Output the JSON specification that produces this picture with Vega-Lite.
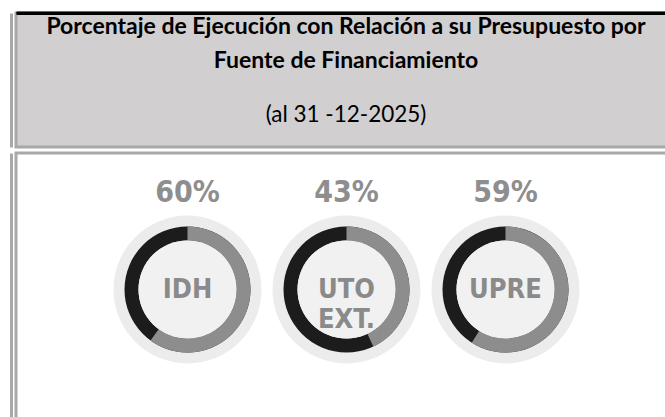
{
  "$schema": "https://vega.github.io/schema/vega-lite/v6.json",
  "background": "white",
  "padding": {"left": 9, "top": 10, "right": -12, "bottom": -11},
  "spacing": 2,
  "vconcat": [
    {
      "width": 660,
      "height": 134,
      "view": {"fill": "#d1cfd0", "stroke": "#a8a8a8", "strokeWidth": 3},
      "data": {"values": [{"titulo": "Porcentaje de Ejecución con Relación a su Presupuesto por\nFuente de Financiamiento", "fecha": "(al 31 -12-2025)"}]},
      "layer": [
        {
          "mark": {"type": "text", "font": "Lato", "fontWeight": "bold", "fontSize": 23, "lineBreak": "\n", "lineHeight": 34, "baseline": "alphabetic", "align": "center", "dy": -46.5, "color": "#000000"},
          "encoding": {
            "text": {"field": "titulo"},
            "x": {"datum": 0, "type": "quantitative", "scale": {"domain": [-1, 1]}, "axis": {"orient": "top", "domainColor": "#000000", "domainWidth": 3, "labels": false, "ticks": false, "grid": false, "title": null}},
            "y": {"datum": 0, "type": "quantitative", "scale": {"domain": [-1, 1]}, "axis": {"orient": "left", "offset": 5, "domainColor": "#a8a8a8", "domainWidth": 3, "labels": false, "ticks": false, "grid": false, "title": null}}
          }
        },
        {
          "mark": {"type": "text", "font": "Lato", "fontSize": 22.5, "baseline": "alphabetic", "align": "center", "dy": 42, "color": "#000000"},
          "encoding": {
            "text": {"field": "fecha"},
            "x": {"datum": 0, "type": "quantitative", "scale": {"domain": [-1, 1]}, "axis": {"orient": "top", "offset": 1, "domainColor": "#000000", "domainWidth": 2, "labels": false, "ticks": false, "grid": false, "title": null}}
          }
        }
      ],
      "resolve": {"scale": {"x": "independent"}, "axis": {"x": "independent"}}
    },
    {
      "width": 660,
      "height": 273,
      "view": {"fill": "white", "stroke": "#a8a8a8", "strokeWidth": 3},
      "data": {"values": [
        {"fuente": "IDH", "etiqueta": "IDH", "ejecucion": 0.60},
        {"fuente": "UTO EXT.", "etiqueta": "UTO\nEXT.", "ejecucion": 0.43},
        {"fuente": "UPRE", "etiqueta": "UPRE", "ejecucion": 0.59}
      ]},
      "encoding": {
        "x": {"field": "fuente", "type": "nominal", "sort": null, "scale": {"type": "point", "padding": 0, "range": [171.5, 489.5]}, "axis": null}
      },
      "layer": [
        {
          "mark": {"type": "arc", "radius": 74, "fill": "#ececec"},
          "encoding": {
            "y": {"datum": 0, "type": "quantitative", "scale": {"domain": [-1, 1]}, "axis": {"orient": "left", "offset": 5, "domainColor": "#a8a8a8", "domainWidth": 3, "labels": false, "ticks": false, "grid": false, "title": null}}
          }
        },
        {
          "mark": {"type": "arc", "radius": 63, "innerRadius": 49, "fill": "#1c1c1c"},
          "encoding": {}
        },
        {
          "mark": {"type": "arc", "radius": 63, "innerRadius": 49, "fill": "#8d8d8d"},
          "encoding": {
            "theta": {"field": "ejecucion", "type": "quantitative", "stack": null, "scale": {"domain": [0, 1]}}
          }
        },
        {
          "mark": {"type": "arc", "radius": 49, "fill": "#f1f1f1"},
          "encoding": {}
        },
        {
          "mark": {"type": "text", "font": "DejaVu Sans Condensed, DejaVu Sans", "fontWeight": "bold", "fontSize": 30, "baseline": "middle", "align": "center", "dy": -97, "color": "#8e8e8e"},
          "encoding": {"text": {"field": "ejecucion", "type": "quantitative", "format": ".0%"}}
        },
        {
          "mark": {"type": "text", "font": "DejaVu Sans Condensed, DejaVu Sans", "fontWeight": "bold", "fontSize": 27, "lineBreak": "\n", "lineHeight": 30, "baseline": "middle", "align": "center", "color": "#8a8a8a"},
          "encoding": {"text": {"field": "etiqueta"}}
        }
      ]
    }
  ]
}
